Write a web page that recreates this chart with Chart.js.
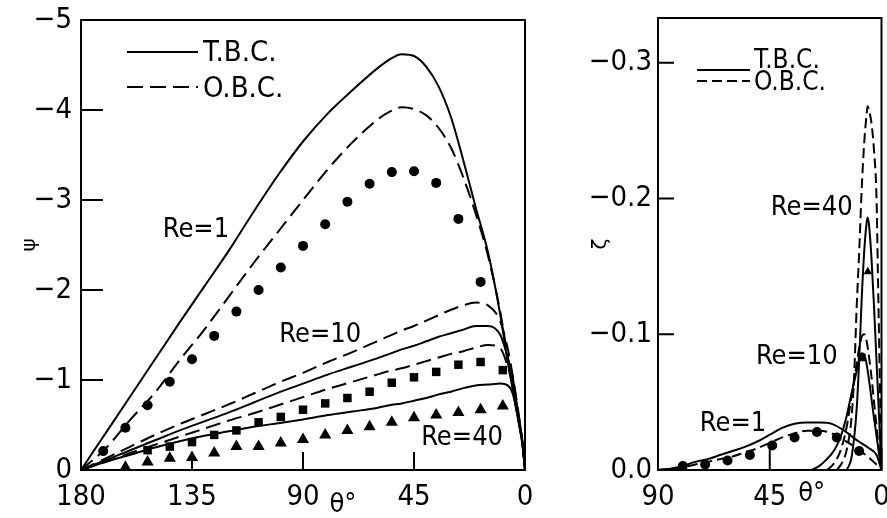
<!DOCTYPE html>
<html>
<head>
<meta charset="utf-8">
<script src="https://cdn.jsdelivr.net/npm/chart.js@4.4.1/dist/chart.umd.min.js"></script>
<style>
  html, body { margin: 0; background: #fff; }
  #wrap { position: relative; width: 887px; height: 518px; overflow: hidden; }
  #psiChart { position: absolute; left: 0; top: 0; }
  #zetaChart { position: absolute; left: 545px; top: 0; }
</style>
</head>
<body>
<div id="wrap">
  <canvas id="psiChart" width="545" height="518"></canvas>
  <canvas id="zetaChart" width="342" height="518"></canvas>
</div>
<script>
// ---------- left panel: psi against theta ----------
const psiXTicks = [180, 135, 90, 45, 0];
const psiYTicks = [-5, -4, -3, -2, -1, 0];

const psiTheta = [180, 170, 160, 150, 140, 130, 120, 110, 100, 90, 80, 70, 60, 55, 50, 45, 40, 35, 30, 25, 20, 15, 10, 7, 5, 3, 1, 0];
const psiTbcRe1 = [0, -0.41, -0.82, -1.23, -1.64, -2.04, -2.44, -2.87, -3.28, -3.65, -3.96, -4.22, -4.46, -4.56, -4.62, -4.6, -4.48, -4.26, -3.92, -3.44, -2.92, -2.42, -1.72, -1.2, -0.9, -0.6, -0.27, 0];
const psiObcRe1 = [0, -0.24, -0.56, -0.86, -1.22, -1.56, -1.93, -2.3, -2.65, -3.0, -3.34, -3.64, -3.89, -3.98, -4.03, -4.01, -3.94, -3.8, -3.58, -3.25, -2.85, -2.38, -1.75, -1.25, -0.92, -0.6, -0.27, 0];
const psiTbcRe10 = [0, -0.11, -0.22, -0.33, -0.44, -0.54, -0.64, -0.75, -0.86, -0.96, -1.06, -1.15, -1.24, -1.29, -1.34, -1.38, -1.43, -1.48, -1.52, -1.56, -1.6, -1.6, -1.5, -1.25, -1.03, -0.68, -0.3, 0];
const psiObcRe10 = [0, -0.13, -0.26, -0.39, -0.51, -0.62, -0.73, -0.85, -0.97, -1.08, -1.2, -1.31, -1.43, -1.49, -1.55, -1.6, -1.66, -1.72, -1.78, -1.83, -1.86, -1.83, -1.65, -1.35, -1.05, -0.7, -0.3, 0];
const psiTbcRe40 = [0, -0.09, -0.17, -0.25, -0.32, -0.38, -0.43, -0.48, -0.52, -0.56, -0.61, -0.65, -0.69, -0.72, -0.74, -0.77, -0.8, -0.84, -0.87, -0.91, -0.94, -0.95, -0.96, -0.94, -0.85, -0.6, -0.28, 0];
const psiObcRe40 = [0, -0.09, -0.19, -0.28, -0.37, -0.46, -0.55, -0.63, -0.72, -0.81, -0.9, -0.98, -1.06, -1.1, -1.13, -1.17, -1.21, -1.25, -1.29, -1.32, -1.36, -1.39, -1.35, -1.15, -0.95, -0.65, -0.3, 0];

const psiDotTheta = [171, 162, 153, 144, 135, 126, 117, 108, 99, 90, 81, 72, 63, 54, 45, 36, 27, 18];
const psiDotRe1 = [-0.21, -0.47, -0.72, -0.98, -1.23, -1.49, -1.76, -2.0, -2.25, -2.49, -2.73, -2.98, -3.18, -3.31, -3.32, -3.19, -2.79, -2.09];
const psiSquareTheta = [153, 144, 135, 126, 117, 108, 99, 90, 81, 72, 63, 54, 45, 36, 27, 18, 9];
const psiSquareRe10 = [-0.22, -0.26, -0.31, -0.39, -0.44, -0.53, -0.59, -0.67, -0.74, -0.8, -0.87, -0.97, -1.03, -1.09, -1.17, -1.2, -1.11];
const psiTriTheta = [162, 153, 144, 135, 126, 117, 108, 99, 90, 81, 72, 63, 54, 45, 36, 27, 18, 9];
const psiTriRe40 = [-0.03, -0.09, -0.13, -0.14, -0.19, -0.26, -0.26, -0.3, -0.34, -0.39, -0.44, -0.48, -0.53, -0.58, -0.61, -0.64, -0.67, -0.71];

// ---------- right panel: zeta against theta ----------
const zetaXTicks = [90, 45, 0];
const zetaYTicks = [-0.3, -0.2, -0.1, 0];

const zetaThetaRe1 = [90, 85, 80, 75, 70, 65, 60, 55, 50, 45, 40, 35, 30, 25, 20, 15, 10, 5, 2, 0];
const zetaTbcRe1 = [0, -0.001, -0.003, -0.006, -0.008, -0.011, -0.014, -0.017, -0.021, -0.026, -0.031, -0.034, -0.035, -0.035, -0.034, -0.029, -0.022, -0.016, -0.011, 0];
const zetaObcRe1 = [0, -0.001, -0.002, -0.004, -0.006, -0.008, -0.01, -0.013, -0.016, -0.02, -0.024, -0.027, -0.029, -0.029, -0.027, -0.022, -0.016, -0.009, -0.004, 0];
const zetaThetaTbcRe10 = [28, 25, 22, 20, 18, 16, 14, 12, 10, 9, 8, 7, 6, 5, 4, 3, 2, 1, 0];
const zetaTbcRe10 = [0, -0.003, -0.008, -0.012, -0.018, -0.027, -0.04, -0.057, -0.073, -0.081, -0.086, -0.085, -0.078, -0.066, -0.052, -0.038, -0.025, -0.012, 0];
const zetaThetaObcRe10 = [22, 20, 18, 16, 14, 12, 10, 9, 8, 7, 6, 5, 4, 3, 2, 1, 0];
const zetaObcRe10 = [0, -0.003, -0.008, -0.017, -0.032, -0.055, -0.078, -0.09, -0.098, -0.1, -0.095, -0.083, -0.068, -0.05, -0.032, -0.015, 0];
const zetaThetaTbcRe40 = [14, 12, 10, 9, 8, 7, 6, 5.6, 5, 4, 3, 2, 1, 0];
const zetaTbcRe40 = [0, -0.01, -0.045, -0.08, -0.125, -0.16, -0.182, -0.186, -0.18, -0.155, -0.12, -0.08, -0.04, 0];
const zetaThetaObcRe40 = [18, 16, 14, 12, 11, 10, 9, 8, 7, 6, 5.6, 5, 4, 3, 2, 1.5, 1, 0.5, 0];
const zetaObcRe40 = [0, -0.005, -0.015, -0.04, -0.07, -0.12, -0.16, -0.206, -0.24, -0.262, -0.268, -0.265, -0.255, -0.235, -0.2, -0.15, -0.1, -0.05, 0];

const zetaDotTheta = [80, 71, 62, 53, 44, 35, 26, 18, 9];
const zetaDotRe1 = [-0.003, -0.004, -0.007, -0.011, -0.018, -0.024, -0.028, -0.024, -0.014];
const zetaSquareTheta = [8];
const zetaSquareRe10 = [-0.083];
const zetaTriTheta = [5.5];
const zetaTriRe40 = [-0.146];

const FONT = "'Liberation Sans Narrow', 'DejaVu Sans Condensed', 'Liberation Sans', sans-serif";

function pts(xs, ys) { return xs.map((x, i) => ({ x: x, y: ys[i] })); }

function curve(xs, ys, dash) {
  return {
    data: pts(xs, ys), showLine: true, borderColor: '#000', borderWidth: 2,
    borderDash: dash, pointRadius: 0, cubicInterpolationMode: 'monotone', fill: false
  };
}

function marks(xs, ys, style, r) {
  return {
    data: pts(xs, ys), showLine: false, pointStyle: style, pointRadius: r,
    backgroundColor: '#000', borderColor: '#000', borderWidth: 0
  };
}

// frame + inward tick marks
const frameTicks = {
  id: 'frameTicks',
  afterDraw(chart, args, opts) {
    const { ctx, chartArea: a, scales: { x, y } } = chart;
    ctx.save();
    ctx.strokeStyle = '#000';
    ctx.lineWidth = 2;
    ctx.beginPath();
    x.ticks.forEach(t => {
      const px = x.getPixelForValue(t.value);
      ctx.moveTo(px, a.bottom); ctx.lineTo(px, a.bottom - opts.xLen);
    });
    y.ticks.forEach(t => {
      const py = y.getPixelForValue(t.value);
      ctx.moveTo(a.left, py); ctx.lineTo(a.left + opts.yLen, py);
    });
    ctx.stroke();
    ctx.strokeRect(a.left, a.top, a.right - a.left, a.bottom - a.top);
    ctx.restore();
  }
};

// curve names and axis symbol placed at data coordinates
const curveLabels = {
  id: 'curveLabels',
  afterDraw(chart, args, opts) {
    const { ctx, scales: { x, y } } = chart;
    ctx.save();
    ctx.fillStyle = '#000';
    ctx.textAlign = 'center';
    ctx.textBaseline = 'middle';
    ctx.font = opts.font;
    opts.items.forEach(it => {
      ctx.fillText(it.text, x.getPixelForValue(it.x), y.getPixelForValue(it.y));
    });
    ctx.restore();
  }
};

// line-style key in the upper left corner
const lineKey = {
  id: 'lineKey',
  afterDraw(chart, args, opts) {
    const { ctx, chartArea: a } = chart;
    ctx.save();
    ctx.strokeStyle = '#000';
    ctx.fillStyle = '#000';
    ctx.lineWidth = 2;
    ctx.font = opts.font;
    ctx.textBaseline = 'middle';
    opts.items.forEach(it => {
      const x0 = a.left + opts.x;
      ctx.setLineDash(it.dash);
      ctx.beginPath();
      ctx.moveTo(x0, a.top + it.lineY);
      ctx.lineTo(x0 + opts.len, a.top + it.lineY);
      ctx.stroke();
      ctx.setLineDash([]);
      ctx.fillText(it.text, x0 + opts.len + opts.gap, a.top + it.textY);
    });
    ctx.restore();
  }
};

function minusLabel(v, digits) {
  if (v === 0) return digits ? (0).toFixed(digits) : '0';
  const s = digits ? Math.abs(v).toFixed(digits) : String(Math.abs(v));
  return (v < 0 ? '\u2212' : '') + s;
}

function axes(o) {
  return {
    x: {
      type: 'linear', reverse: true, min: o.xMin, max: o.xMax,
      afterBuildTicks: s => { s.ticks = o.xTicks.map(v => ({ value: v })); },
      afterFit: s => { s.height = o.xHeight; s.paddingLeft = 0; s.paddingRight = 0; },
      grid: { display: false, drawTicks: false },
      border: { display: false },
      ticks: { color: '#000', font: { family: FONT, size: o.tickSize }, padding: o.xPad, maxRotation: 0, callback: v => String(v) }
    },
    y: {
      type: 'linear', reverse: true, min: o.yMin, max: o.yMax,
      afterBuildTicks: s => { s.ticks = o.yTicks.map(v => ({ value: v })); },
      afterFit: s => { s.width = o.yWidth; s.paddingTop = 0; s.paddingBottom = 0; },
      grid: { display: false, drawTicks: false },
      border: { display: false },
      ticks: { color: '#000', font: { family: FONT, size: o.tickSize }, padding: o.yPad, callback: v => minusLabel(v, o.digits) },
      title: { display: true, text: o.yTitle, color: '#000', font: { family: 'DejaVu Sans', size: 20 }, padding: { top: o.titlePad, bottom: 0 } }
    }
  };
}

function init() {
  new Chart(document.getElementById('psiChart'), {
    type: 'scatter',
    data: {
      datasets: [
        curve(psiTheta, psiTbcRe1, []),
        curve(psiTheta, psiObcRe1, [15, 7]),
        curve(psiTheta, psiTbcRe10, []),
        curve(psiTheta, psiObcRe10, [15, 7]),
        curve(psiTheta, psiTbcRe40, []),
        curve(psiTheta, psiObcRe40, [15, 7]),
        marks(psiDotTheta, psiDotRe1, 'circle', 5),
        marks(psiSquareTheta, psiSquareRe10, 'rect', 6),
        marks(psiTriTheta, psiTriRe40, 'triangle', 7)
      ]
    },
    options: {
      responsive: false,
      animation: false,
      layout: { padding: { top: 20, right: 20, left: 0, bottom: 0 } },
      scales: axes({
        xMin: 0, xMax: 180, xTicks: psiXTicks, xHeight: 48, xPad: 10,
        yMin: -5, yMax: 0, yTicks: psiYTicks, yWidth: 81, yPad: 9,
        tickSize: 29, digits: 0, yTitle: '\u03c8', titlePad: 18
      }),
      plugins: {
        legend: { display: false },
        tooltip: { enabled: false },
        frameTicks: { xLen: 18, yLen: 22 },
        curveLabels: {
          font: "27px " + FONT,
          items: [
            { text: 'Re=1', x: 133.4, y: -2.67 },
            { text: 'Re=10', x: 83, y: -1.5 },
            { text: 'Re=40', x: 25.5, y: -0.36 },
            { text: '\u03b8\u00b0', x: 73.8, y: 0.39 }
          ]
        },
        lineKey: {
          font: "29px " + FONT, x: 46, len: 71, gap: 5,
          items: [
            { text: 'T.B.C.', dash: [], lineY: 32, textY: 33 },
            { text: 'O.B.C.', dash: [16, 7], lineY: 67, textY: 69 }
          ]
        }
      }
    },
    plugins: [frameTicks, curveLabels, lineKey]
  });

  new Chart(document.getElementById('zetaChart'), {
    type: 'scatter',
    data: {
      datasets: [
        curve(zetaThetaRe1, zetaTbcRe1, []),
        curve(zetaThetaRe1, zetaObcRe1, [10, 5]),
        curve(zetaThetaTbcRe10, zetaTbcRe10, []),
        curve(zetaThetaObcRe10, zetaObcRe10, [10, 5]),
        curve(zetaThetaTbcRe40, zetaTbcRe40, []),
        curve(zetaThetaObcRe40, zetaObcRe40, [10, 5]),
        marks(zetaDotTheta, zetaDotRe1, 'circle', 5),
        marks(zetaSquareTheta, zetaSquareRe10, 'rect', 5.5),
        marks(zetaTriTheta, zetaTriRe40, 'triangle', 5)
      ]
    },
    options: {
      responsive: false,
      animation: false,
      layout: { padding: { top: 18, right: 5, left: 0, bottom: 0 } },
      scales: axes({
        xMin: 0, xMax: 90, xTicks: zetaXTicks, xHeight: 48, xPad: 10,
        yMin: -0.333, yMax: 0, yTicks: zetaYTicks, yWidth: 113, yPad: 6,
        tickSize: 29, digits: 1, yTitle: '\u03b6', titlePad: 44
      }),
      plugins: {
        legend: { display: false },
        tooltip: { enabled: false },
        frameTicks: { xLen: 22, yLen: 16 },
        curveLabels: {
          font: "27px " + FONT,
          items: [
            { text: 'Re=40', x: 28.1, y: -0.193 },
            { text: 'Re=10', x: 34.1, y: -0.083 },
            { text: 'Re=1', x: 59.8, y: -0.034 },
            { text: '\u03b8\u00b0', x: 28.1, y: 0.018 }
          ]
        },
        lineKey: {
          font: "26px " + FONT, x: 39, len: 53, gap: 4,
          items: [
            { text: 'T.B.C.', dash: [], lineY: 52, textY: 43 },
            { text: 'O.B.C.', dash: [10, 5], lineY: 63, textY: 65 }
          ]
        }
      }
    },
    plugins: [frameTicks, curveLabels, lineKey]
  });
}

document.addEventListener('DOMContentLoaded', init);
</script>
</body>
</html>
